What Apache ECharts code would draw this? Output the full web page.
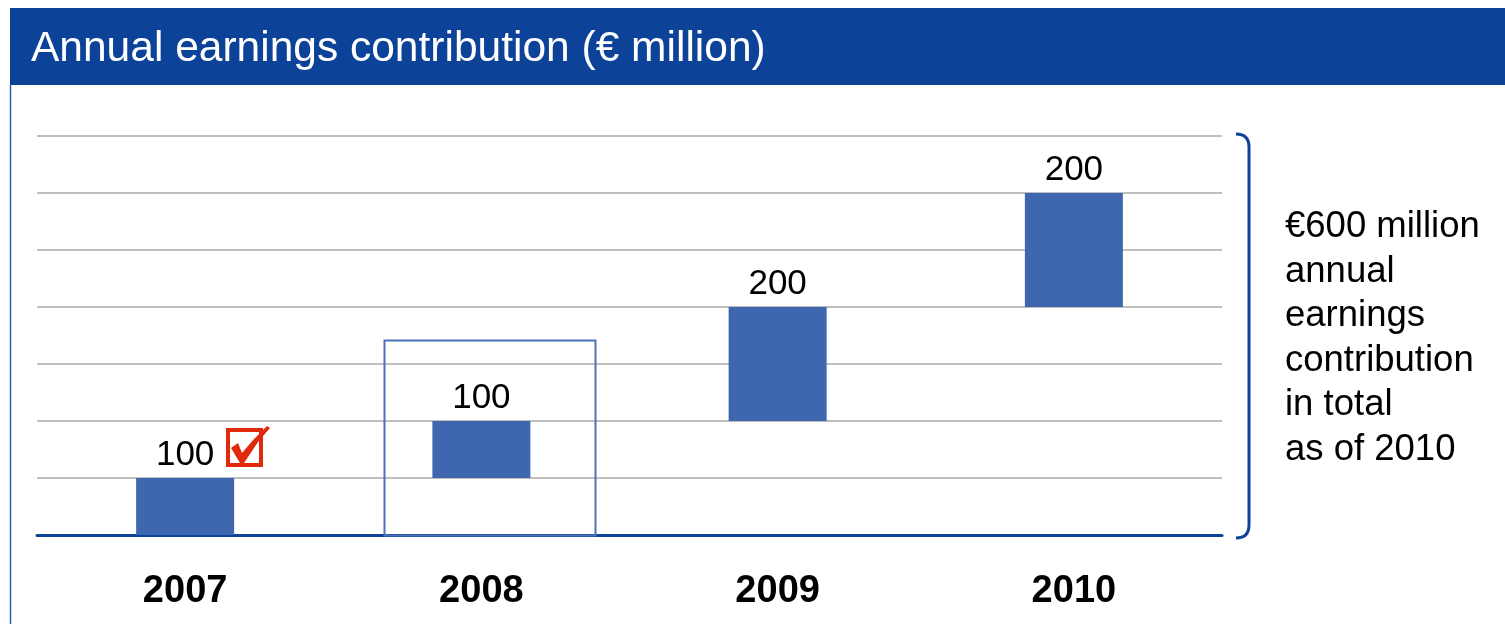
<!DOCTYPE html>
<html><head><meta charset="utf-8">
<script src="https://cdn.jsdelivr.net/npm/echarts@6/dist/echarts.min.js"></script>
<style>html,body{margin:0;padding:0;background:#fff}#c{width:1505px;height:624px}</style>
</head><body><div id="c"></div>
<script>
const categories = ['2007', '2008', '2009', '2010'];
const baseValues = [0, 100, 200, 400];
const increments = [100, 100, 200, 200];
const axisMax = 700;
const axisInterval = 100;
const titleText = 'Annual earnings contribution (€ million)';
const sideNote = '€600 million\nannual\nearnings\ncontribution\nin total\nas of 2010';

const chart = echarts.init(document.getElementById('c'));
const blue = '#0D4299';
const barColor = '#3F67AF';
const red = '#E02A0B';
const FF = 'Liberation Sans, Arial, sans-serif';
chart.setOption({
  animation: false,
  grid: { left: 37, right: 283, top: 136, bottom: 89 },
  xAxis: {
    type: 'category', data: categories,
    axisLine: { lineStyle: { color: blue, width: 3 } },
    axisTick: { show: false },
    axisLabel: { color: '#000', fontFamily: FF, fontWeight: 'bold', fontSize: 38, margin: 38 }
  },
  yAxis: {
    type: 'value', min: 0, max: axisMax, interval: axisInterval,
    axisLabel: { show: false }, axisLine: { show: false }, axisTick: { show: false },
    splitLine: { lineStyle: { color: '#BFBFBF', width: 2 } }
  },
  series: [
    { type: 'bar', stack: 'w', data: baseValues, barWidth: 98, itemStyle: { color: 'transparent' }, silent: true },
    { type: 'bar', stack: 'w', data: increments, barWidth: 98, itemStyle: { color: barColor },
      label: { show: true, position: 'top', distance: 5, color: '#000', fontFamily: FF, fontSize: 35 } }
  ],
  graphic: [
    { type: 'rect', shape: { x: 10, y: 8, width: 1495, height: 77 }, style: { fill: '#0D4299' } },
    { type: 'text', x: 31, y: 28, style: { text: titleText, fill: '#fff', fontFamily: FF, fontSize: 42.5, verticalAlign: 'top' } },
    { type: 'line', shape: { x1: 10.5, y1: 85, x2: 10.5, y2: 624 }, style: { stroke: '#2F5BB0', lineWidth: 1.5 } },
    { type: 'rect', shape: { x: 384.5, y: 340.5, width: 211, height: 195 }, style: { fill: 'none', stroke: '#4A72BC', lineWidth: 2 }, z: 10 },
    { type: 'bezierCurve', shape: { x1: 1236, y1: 134, cpx1: 1249, cpy1: 134, x2: 1249, y2: 147 }, style: { fill: 'none', stroke: blue, lineWidth: 3 } },
    { type: 'line', shape: { x1: 1249, y1: 147, x2: 1249, y2: 525 }, style: { stroke: blue, lineWidth: 3 } },
    { type: 'bezierCurve', shape: { x1: 1249, y1: 525, cpx1: 1249, cpy1: 538, x2: 1236, y2: 538 }, style: { fill: 'none', stroke: blue, lineWidth: 3 } },
    { type: 'text', x: 1285, y: 205, style: { text: sideNote, fill: '#000', fontFamily: FF, fontSize: 36.5, lineHeight: 44.5, verticalAlign: 'top' } },
    { type: 'rect', shape: { x: 228, y: 430, width: 33, height: 35 }, style: { fill: 'none', stroke: red, lineWidth: 4 }, z: 10 },
    { type: 'polygon', shape: { points: [[231,448],[238,443],[242,453],[254,439],[267,426],[270,428],[258,442],[244,463],[240,463]] }, style: { fill: red }, z: 11 }
  ]
});
</script></body></html>
